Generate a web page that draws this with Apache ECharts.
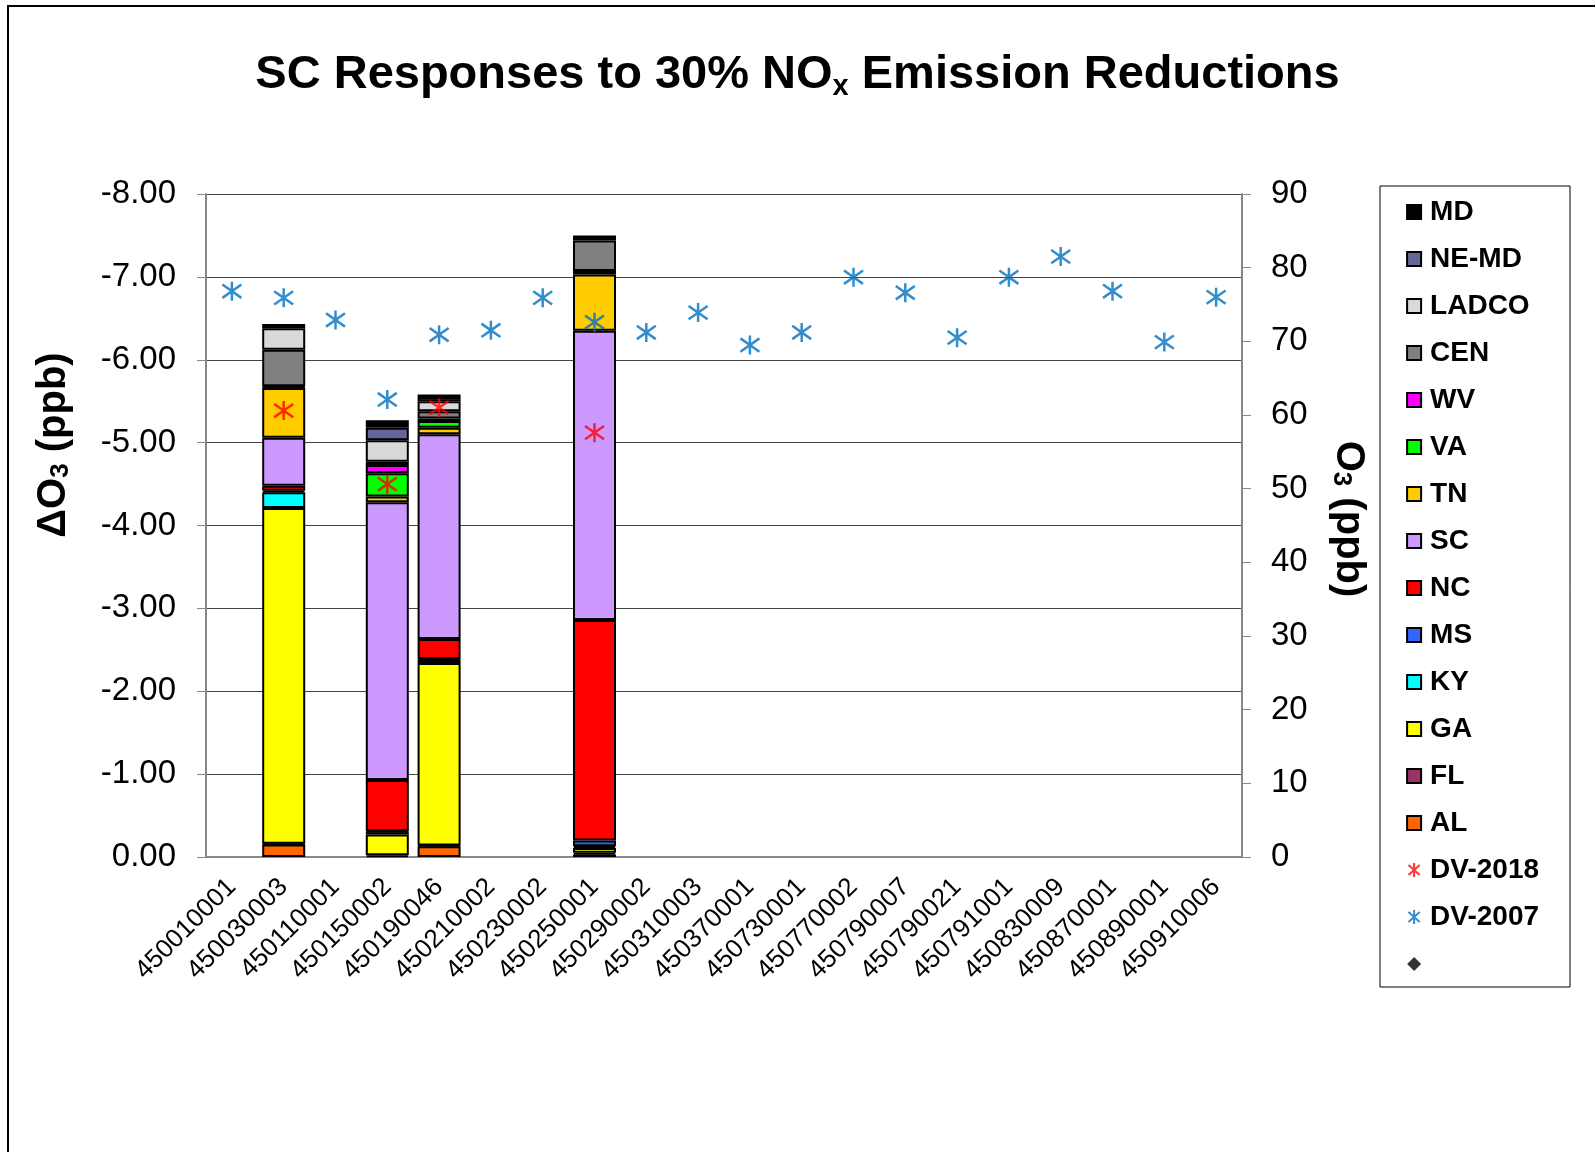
<!DOCTYPE html>
<html>
<head>
<meta charset="utf-8">
<script src="https://cdn.jsdelivr.net/npm/echarts@6/dist/echarts.min.js"></script>
<style>
html,body{margin:0;padding:0;background:#fff;}
#c{width:1595px;height:1152px;}
</style>
</head>
<body>
<div id="c"></div>
<script>
// ---------- data ----------
const categories = ['450010001','450030003','450110001','450150002','450190046','450210002','450230002','450250001','450290002','450310003','450370001','450730001','450770002','450790007','450790021','450791001','450830009','450870001','450890001','450910006'];
const N = null;
const AL    = [N,-0.15,N,-0.02,-0.13,N,N,-0.03,N,N,N,N,N,N,N,N,N,N,N,N];
const FL    = [N,-0.01,N,N,-0.01,N,N,-0.02,N,N,N,N,N,N,N,N,N,N,N,N];
const GA    = [N,-4.05,N,-0.25,-2.20,N,N,-0.06,N,N,N,N,N,N,N,N,N,N,N,N];
const KY    = [N,-0.19,N,-0.03,-0.04,N,N,-0.02,N,N,N,N,N,N,N,N,N,N,N,N];
const MS    = [N,-0.02,N,-0.01,-0.01,N,N,-0.07,N,N,N,N,N,N,N,N,N,N,N,N];
const NC    = [N,-0.06,N,-0.62,-0.24,N,N,-2.66,N,N,N,N,N,N,N,N,N,N,N,N];
const SC    = [N,-0.58,N,-3.35,-2.47,N,N,-3.49,N,N,N,N,N,N,N,N,N,N,N,N];
const TN    = [N,-0.60,N,-0.07,-0.08,N,N,-0.68,N,N,N,N,N,N,N,N,N,N,N,N];
const VA    = [N,-0.01,N,-0.28,-0.08,N,N,-0.04,N,N,N,N,N,N,N,N,N,N,N,N];
const WV    = [N,-0.01,N,-0.10,-0.03,N,N,N,N,N,N,N,N,N,N,N,N,N,N,N];
const CEN   = [N,-0.44,N,-0.04,-0.09,N,N,-0.37,N,N,N,N,N,N,N,N,N,N,N,N];
const LADCO = [N,-0.26,N,-0.26,-0.12,N,N,N,N,N,N,N,N,N,N,N,N,N,N,N];
const NEMD  = [N,N,N,-0.15,-0.05,N,N,N,N,N,N,N,N,N,N,N,N,N,N,N];
const MD    = [N,-0.05,N,-0.09,-0.03,N,N,-0.06,N,N,N,N,N,N,N,N,N,N,N,N];
const DV2018 = [N,60.6,N,50.6,61.0,N,N,57.6,N,N,N,N,N,N,N,N,N,N,N,N];
const DV2007 = [76.8,75.9,72.9,62.1,70.9,71.5,75.9,72.6,71.2,73.9,69.5,71.2,78.7,76.6,70.5,78.7,81.5,76.8,69.9,76.0];
const leftTicks = [-8,-7,-6,-5,-4,-3,-2,-1,0];
const rightTicks = [0,10,20,30,40,50,60,70,80,90];

// ---------- styling ----------
const FONT = '"Liberation Sans", Arial, Helvetica, sans-serif';
const stackDefs = [
  ['AL', AL, '#FF6600'], ['FL', FL, '#993366'], ['GA', GA, '#FFFF00'], ['KY', KY, '#00FFFF'],
  ['MS', MS, '#3366FF'], ['NC', NC, '#FF0000'], ['SC', SC, '#CC99FF'], ['TN', TN, '#FFCC00'],
  ['VA', VA, '#00FF00'], ['WV', WV, '#FF00FF'], ['CEN', CEN, '#808080'], ['LADCO', LADCO, '#D9D9D9'],
  ['NE-MD', NEMD, '#666699'], ['MD', MD, '#000000']
];
const ASTER = 'path://M0,-10L0,10M-8,-7L8,7M-8,7L8,-7';

const series = stackDefs.map(([name, data, color]) => ({
  name, type: 'bar', stack: 'all', data, barWidth: 43,
  itemStyle: {color, borderColor: '#000', borderWidth: 2},
  emphasis: {disabled: true}
}));
series.push({
  name: 'DV-2018', type: 'scatter', yAxisIndex: 1, data: DV2018, symbol: ASTER, symbolSize: 19,
  itemStyle: {color: 'none', borderColor: '#FF0000', borderWidth: 2.5}, z: 5
});
series.push({
  name: 'DV-2007', type: 'scatter', yAxisIndex: 1, data: DV2007, symbol: ASTER, symbolSize: 19,
  itemStyle: {color: 'none', borderColor: '#0070C0', borderWidth: 2.5}, z: 5
});
series.push({
  name: ' ', type: 'scatter', yAxisIndex: 1, data: [], symbol: 'diamond', symbolSize: 14,
  itemStyle: {color: '#000'}
});

const barNames = ['MD','NE-MD','LADCO','CEN','WV','VA','TN','SC','NC','MS','KY','GA','FL','AL'];
const legendData = barNames.map(n => ({name: n, icon: 'rect'}))
  .concat([{name: 'DV-2018'}, {name: 'DV-2007'}, {name: ' '}]);

const chart = echarts.init(document.getElementById('c'), null, {renderer: 'canvas'});
chart.setOption({
  backgroundColor: '#fff',
  animation: false,
  title: {
    text: 'SC Responses to 30% NO{sub|x} Emission Reductions',
    left: 'center', top: 44,
    textStyle: {
      fontFamily: FONT, fontWeight: 'bold', fontSize: 47, color: '#000', lineHeight: 52,
      rich: {sub: {fontFamily: FONT, fontWeight: 'bold', fontSize: 29, color: '#000', lineHeight: 18, verticalAlign: 'bottom'}}
    }
  },
  grid: {left: 206, top: 194, width: 1036, height: 663, containLabel: false},
  legend: {
    orient: 'vertical', left: 1401, top: 192, itemWidth: 14, itemHeight: 14, itemGap: 17,
    data: legendData, selectedMode: false,
    textStyle: {fontFamily: FONT, fontWeight: 'bold', fontSize: 28, color: '#000', lineHeight: 30, padding: [0, 0, 0, 4]}
  },
  xAxis: {
    type: 'category', data: categories,
    axisLine: {lineStyle: {color: '#888', width: 2}},
    axisTick: {show: false},
    axisLabel: {rotate: 45, fontFamily: FONT, fontSize: 26, color: '#000', margin: 26, interval: 0}
  },
  yAxis: [{
    type: 'value', min: leftTicks[0], max: leftTicks[leftTicks.length-1], interval: 1, inverse: true,
    axisLine: {show: true, lineStyle: {color: '#888', width: 2}},
    axisTick: {show: true, length: 9, lineStyle: {color: '#888', width: 1}},
    splitLine: {lineStyle: {color: '#444', width: 1}},
    axisLabel: {fontFamily: FONT, fontSize: 33, color: '#000', margin: 30, formatter: v => v.toFixed(2)}
  }, {
    type: 'value', min: rightTicks[0], max: rightTicks[rightTicks.length-1], interval: 10, position: 'right',
    axisLine: {show: true, lineStyle: {color: '#888', width: 2}},
    axisTick: {show: true, length: 9, lineStyle: {color: '#888', width: 1}},
    splitLine: {show: false},
    axisLabel: {fontFamily: FONT, fontSize: 33, color: '#000', margin: 29}
  }],
  graphic: [
    {type: 'rect', shape: {x: 8, y: 6, width: 1700, height: 1300}, style: {fill: 'none', stroke: '#000', lineWidth: 2}, silent: true, z: -1},
    {type: 'rect', shape: {x: 1380, y: 186, width: 190, height: 801}, style: {fill: 'none', stroke: '#000', lineWidth: 1}, silent: true},
    {type: 'text', x: 54, y: 445, rotation: Math.PI/2,
      style: {text: 'ΔO{s|3} (ppb)', fill: '#000', font: 'bold 40px ' + FONT, align: 'center', verticalAlign: 'middle',
        rich: {s: {font: 'bold 26px ' + FONT, fill: '#000', lineHeight: 14, verticalAlign: 'bottom'}}}},
    {type: 'text', x: 1348, y: 519, rotation: -Math.PI/2,
      style: {text: 'O{s|3} (ppb)', fill: '#000', font: 'bold 40px ' + FONT, align: 'center', verticalAlign: 'middle',
        rich: {s: {font: 'bold 26px ' + FONT, fill: '#000', lineHeight: 14, verticalAlign: 'bottom'}}}}
  ],
  series
});
</script>
</body>
</html>
